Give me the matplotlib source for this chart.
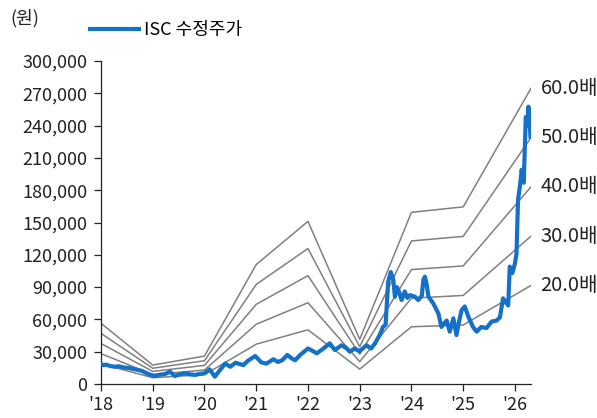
import numpy as np
import matplotlib
matplotlib.use("Agg")
import matplotlib.pyplot as plt

plt.rcParams["font.family"] = ["Noto Sans CJK KR", "DejaVu Sans"]

# PER band: annual EPS (won) at year start, last point = latest date
band_t = [2018.0, 2019.0, 2020.0, 2021.0, 2022.0, 2023.0, 2024.0, 2025.0, 2026.31]
band_eps = [940, 293, 433, 1850, 2517, 692, 2658, 2742, 4577]
multiples = [20, 30, 40, 50, 60]

# adjusted close (thousand won)
price_t = [2018.00, 2018.05, 2018.10, 2018.17, 2018.27, 2018.35, 2018.45, 2018.53, 2018.62, 2018.72,
           2018.80, 2018.91, 2019.04, 2019.12, 2019.24, 2019.33, 2019.43, 2019.52, 2019.62, 2019.72,
           2019.82, 2019.92, 2020.00, 2020.10, 2020.20, 2020.30, 2020.40, 2020.50, 2020.60, 2020.68,
           2020.75, 2020.85, 2020.98, 2021.10, 2021.20, 2021.33, 2021.42, 2021.50, 2021.60, 2021.68,
           2021.75, 2021.85, 2022.00, 2022.08, 2022.17, 2022.30, 2022.42, 2022.52, 2022.65, 2022.75,
           2022.81, 2022.90, 2023.00, 2023.13, 2023.22, 2023.30, 2023.40, 2023.45, 2023.50, 2023.55,
           2023.60, 2023.65, 2023.68, 2023.72, 2023.75, 2023.81, 2023.87, 2023.92, 2023.97, 2024.07,
           2024.13, 2024.20, 2024.23, 2024.26, 2024.29, 2024.33, 2024.42, 2024.52, 2024.58, 2024.63,
           2024.68, 2024.74, 2024.81, 2024.87, 2024.92, 2024.97, 2025.03, 2025.10, 2025.19, 2025.26,
           2025.35, 2025.45, 2025.55, 2025.65, 2025.71, 2025.77, 2025.82, 2025.87, 2025.90, 2025.95,
           2026.00, 2026.03, 2026.06, 2026.10, 2026.13, 2026.17, 2026.21, 2026.24, 2026.26, 2026.28,
           2026.30]
price_k = [18.6, 17.5, 18.0, 16.8, 16.0, 16.5, 15.2, 15.0, 14.0, 13.0,
           12.0, 9.3, 7.4, 8.5, 9.3, 11.5, 7.4, 9.0, 10.0, 9.0,
           8.4, 9.5, 10.0, 13.6, 6.8, 13.0, 19.0, 16.0, 19.8, 18.5,
           17.6, 22.0, 26.0, 20.0, 19.0, 23.0, 20.5, 22.0, 27.0, 24.0,
           22.0, 27.0, 33.0, 31.0, 28.5, 33.0, 37.8, 31.6, 36.0, 33.0,
           30.0, 33.0, 30.5, 36.0, 33.0, 38.0, 47.0, 53.0, 55.0, 95.0,
           104.0, 96.6, 81.0, 90.0, 87.0, 78.0, 86.0, 80.0, 82.6, 81.0,
           78.0, 82.0, 96.6, 99.7, 93.5, 81.0, 75.0, 65.6, 53.0, 56.0,
           59.0, 48.6, 61.0, 45.5, 58.0, 68.7, 72.0, 62.5, 53.0, 48.6,
           53.0, 52.0, 58.0, 59.0, 62.0, 79.6, 76.0, 73.0, 109.0, 103.0,
           112.0, 121.0, 171.0, 185.0, 199.0, 187.0, 248.0, 240.0, 257.6, 250.0,
           229.7]

year_ticks = list(range(2018, 2027))
year_labels = ["'%02d" % (y % 100) for y in year_ticks]

fig = plt.figure(figsize=(5.97, 4.18), dpi=100)
ax = fig.add_axes([0.1692, 0.0813, 0.8894 - 0.1692, 0.854 - 0.0813])

eps = np.asarray(band_eps, dtype=float)
for m in multiples:
    ys = eps * m
    ax.plot(band_t, ys, color="#808080", lw=1.1, zorder=2)
    ax.annotate(f"{m:.1f}배", xy=(band_t[-1], ys[-1]), xytext=(7, 0),
                textcoords="offset points", va="center", ha="left",
                fontsize=14.5, color="#222222", annotation_clip=False)

ax.plot(price_t, np.asarray(price_k) * 1000, color="#1570c8", lw=3.0,
        solid_joinstyle="round", zorder=3, label="ISC 수정주가")

ax.set_xlim(2018.0, 2026.31)
ax.set_ylim(0, 300000)
ax.set_yticks(np.arange(0, 300001, 30000))
ax.set_yticklabels([f"{v:,}" for v in range(0, 300001, 30000)])
ax.set_xticks(year_ticks, year_labels)
ax.tick_params(labelsize=13, colors="#222222", length=5, width=0.9)
ax.tick_params(axis="y", pad=5)
for s in ["top", "right"]:
    ax.spines[s].set_visible(False)
for s in ["left", "bottom"]:
    ax.spines[s].set_color("#222222")
    ax.spines[s].set_linewidth(0.9)

fig.text(10 / 597, 1 - 18 / 418, "(원)", fontsize=13, va="center", ha="left", color="#222222")
ax.legend(loc="upper left", bbox_to_anchor=(-0.042, 1.145), frameon=False, fontsize=13,
          handlelength=2.7, handletextpad=0.3, borderaxespad=0)

fig.savefig("out.png", dpi=100)
